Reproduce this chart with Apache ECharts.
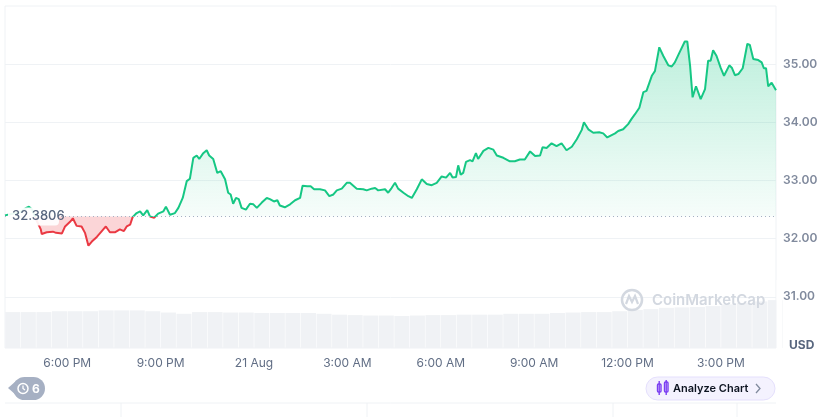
<!DOCTYPE html>
<html>
<head>
<meta charset="utf-8">
<script src="https://cdn.jsdelivr.net/npm/echarts@6/dist/echarts.min.js"></script>
<style>
  html, body { margin: 0; padding: 0; background: #fff; }
  #chart { width: 832px; height: 417px; }
</style>
</head>
<body>
<div id="chart"></div>
<script>
// hours since 20 Aug 00:00
const times = [16.00,16.23,16.48,16.68,16.77,16.87,17.00,17.15,17.18,17.34,17.54,17.64,17.67,17.83,17.93,18.09,18.18,18.30,18.46,18.57,18.68,18.79,18.95,19.11,19.24,19.37,19.53,19.69,19.82,19.91,20.02,20.10,20.23,20.34,20.44,20.57,20.66,20.79,20.92,21.09,21.17,21.30,21.46,21.57,21.71,21.84,21.94,22.05,22.16,22.24,22.37,22.48,22.56,22.69,22.82,22.93,23.07,23.17,23.25,23.33,23.42,23.51,23.60,23.74,23.87,23.98,24.09,24.25,24.41,24.51,24.64,24.75,24.83,24.99,25.16,25.32,25.48,25.56,25.71,25.82,25.93,26.12,26.28,26.42,26.55,26.66,26.82,26.98,27.08,27.19,27.30,27.51,27.62,27.78,27.89,27.99,28.21,28.31,28.42,28.53,28.63,28.80,28.96,29.07,29.23,29.39,29.55,29.71,29.87,30.03,30.17,30.30,30.38,30.49,30.56,30.64,30.72,30.81,30.94,31.02,31.13,31.20,31.37,31.53,31.69,31.80,32.01,32.22,32.38,32.54,32.70,32.87,33.03,33.19,33.27,33.40,33.56,33.72,33.88,34.04,34.21,34.37,34.53,34.60,34.74,34.90,35.09,35.22,35.28,35.35,35.49,35.60,35.70,35.86,36.02,36.13,36.24,36.38,36.51,36.61,36.78,36.88,37.02,37.15,37.31,37.42,37.52,37.66,37.84,37.92,38.01,38.09,38.20,38.35,38.49,38.59,38.67,38.75,38.86,38.99,39.10,39.27,39.35,39.45,39.56,39.70,39.85,39.93,40.04,40.20,40.31,40.38,40.45,40.52,40.63,40.77];
const prices = [32.40,32.43,32.45,32.53,32.55,32.50,32.33,32.16,32.08,32.11,32.12,32.10,32.07,32.09,32.21,32.29,32.35,32.22,32.21,32.10,31.88,31.95,32.03,32.13,32.21,32.11,32.11,32.16,32.13,32.21,32.24,32.37,32.44,32.47,32.40,32.49,32.38,32.36,32.43,32.47,32.55,32.41,32.44,32.53,32.70,32.99,33.03,33.39,33.43,33.37,33.47,33.52,33.43,33.37,33.13,33.16,33.02,32.79,32.76,32.60,32.70,32.68,32.53,32.50,32.60,32.59,32.53,32.62,32.70,32.68,32.64,32.66,32.57,32.54,32.59,32.66,32.70,32.91,32.90,32.90,32.85,32.85,32.83,32.73,32.76,32.83,32.86,32.96,32.96,32.91,32.86,32.85,32.83,32.86,32.87,32.83,32.85,32.79,32.87,32.96,32.86,32.79,32.73,32.70,32.85,33.02,32.94,32.92,32.96,33.07,33.05,33.13,33.05,33.06,33.26,33.10,33.13,33.32,33.35,33.33,33.47,33.37,33.51,33.56,33.53,33.43,33.39,33.33,33.33,33.36,33.36,33.50,33.42,33.43,33.57,33.56,33.64,33.59,33.64,33.52,33.58,33.71,33.87,34.00,33.88,33.82,33.83,33.81,33.83,33.74,33.78,33.81,33.85,33.88,33.97,34.06,34.14,34.25,34.52,34.54,34.80,34.88,35.29,35.14,34.98,34.96,35.03,35.19,35.39,35.39,34.97,34.43,34.62,34.40,34.57,35.06,35.06,35.24,35.14,34.94,34.80,34.98,34.94,34.81,34.83,34.93,35.35,35.33,35.09,35.07,35.03,34.93,34.93,34.62,34.68,34.55];

// half-hour volume bars, starting 16:00
const volStart = 16.25;
const volumes = [42,42,42,43,43,43,44,44,44,43,41.5,40,42,42,41.5,41.5,41,41,41,41,40,39,38.5,38,38,37.5,38,38.5,38.5,39,39,39,40,40,40,41,41.5,42,42,43,44.5,45.5,47,47.5,48,49,51,52.5,54.5,56];

const openPrice = 32.3806;
const lastPrice = 34.55;
const timeTicks = [18, 21, 24, 27, 30, 33, 36, 39];
const tMin = 16.0;
const tMax = 40.77;

const green = '#16c784';
const red = '#ea3943';

function timeLabel(h) {
  if (h === 24) return '21 Aug';
  const hr = h % 24;
  const ampm = hr >= 12 ? 'PM' : 'AM';
  const h12 = hr % 12 === 0 ? 12 : hr % 12;
  return h12 + ':00 ' + ampm;
}

const chart = echarts.init(document.getElementById('chart'));

const xBase = { type: 'value', min: tMin, max: tMax, axisLine: { show: false }, axisTick: { show: false }, splitLine: { show: false } };

chart.setOption({
  animation: false,
  textStyle: { fontFamily: 'Inter, "Noto Sans", sans-serif' },
  grid: [
    { left: 5, right: 56, top: 6, bottom: 62 },
    { left: 5, right: 56, top: 6, bottom: 69, show: true, borderColor: '#eff2f5', borderWidth: 1 },
  ],
  xAxis: [
    Object.assign({ gridIndex: 0, axisLabel: { show: false } }, xBase),
    Object.assign({
      gridIndex: 1,
      axisLabel: {
        customValues: timeTicks,
        formatter: timeLabel,
        color: '#616e85',
        fontSize: 12,
        margin: 9,
      },
    }, xBase),
  ],
  yAxis: [
    {
      gridIndex: 0,
      type: 'value',
      position: 'right',
      min: 30,
      max: 36,
      interval: 1,
      axisLine: { show: false },
      axisTick: { show: false },
      axisLabel: {
        showMinLabel: false,
        showMaxLabel: false,
        formatter: (v) => v.toFixed(2),
        color: '#808a9d',
        fontSize: 12,
        fontWeight: 600,
        margin: 7,
      },
      splitLine: { showMinLine: false, showMaxLine: false, lineStyle: { color: '#eff2f5' } },
    },
    { gridIndex: 1, type: 'value', min: 0, max: 400, show: false },
  ],
  series: [
    {
      type: 'bar',
      xAxisIndex: 1,
      yAxisIndex: 1,
      silent: true,
      barWidth: 15,
      itemStyle: { color: '#f0f2f5' },
      data: volumes.map((v, i) => [volStart + i * 0.5, v]),
    },
    {
      type: 'line',
      silent: true,
      showSymbol: false,
      lineStyle: { width: 0 },
      areaStyle: {
        origin: openPrice,
        color: new echarts.graphic.LinearGradient(0, 0, 0, 1, [
          { offset: 0, color: 'rgba(22,199,132,0.4)' },
          { offset: 1, color: 'rgba(22,199,132,0.05)' },
        ]),
      },
      data: times.map((t, i) => [t, Math.max(prices[i], openPrice)]),
    },
    {
      type: 'line',
      silent: true,
      showSymbol: false,
      lineStyle: { width: 0 },
      areaStyle: { origin: openPrice, color: 'rgba(234,57,67,0.3)' },
      data: times.map((t, i) => [t, Math.min(prices[i], openPrice)]),
    },
    {
      id: 'price',
      type: 'line',
      showSymbol: false,
      lineStyle: { width: 2, color: green },
      data: times.map((t, i) => [t, prices[i]]),
      markLine: {
        silent: true,
        symbol: 'none',
        animation: false,
        data: [
          {
            yAxis: openPrice,
            lineStyle: { color: '#a6b0c3', type: [1, 3], width: 1 },
            label: { show: false },
          },
          {
            yAxis: lastPrice,
            lineStyle: { opacity: 0 },
            label: {
              position: 'end',
              distance: 0,
              formatter: lastPrice.toFixed(2),
              color: '#fff',
              fontSize: 13,
              fontWeight: 700,
              backgroundColor: green,
              borderRadius: 4,
              padding: [4, 5, 4, 5],
            },
          },
        ],
      },
    },
  ],
});

// colour the price line green above the open price and red below it
const yBase = chart.convertToPixel({ yAxisIndex: 0 }, openPrice);
const lineColor = new echarts.graphic.LinearGradient(0, yBase - 1, 0, yBase + 1, [
  { offset: 0, color: green },
  { offset: 0.5, color: green },
  { offset: 0.5, color: red },
  { offset: 1, color: red },
], true);

// right edge of the plot, to trim the last volume bar
const plotRight = chart.convertToPixel({ xAxisIndex: 1 }, tMax);

const wm = '#d3d8e0';
const edge = '#eff2f5';

chart.setOption({
  series: [{ id: 'price', lineStyle: { color: lineColor } }],
  graphic: [
    { type: 'rect', z: 10, shape: { x: plotRight + 0.5, y: 280, width: 6, height: 70 }, style: { fill: '#fff' } },
    // open price tag
    { type: 'rect', z: 100, shape: { x: 8, y: yBase - 9, width: 51, height: 18, r: 4 }, style: { fill: 'rgba(255,255,255,0.92)' } },
    { type: 'text', z: 101, x: 12, y: yBase, style: { text: openPrice.toString(), fill: '#58667e', font: '500 13px Inter', verticalAlign: 'middle' } },
    // unit
    { type: 'text', x: 789, y: 345, style: { text: 'USD', fill: '#58667e', font: '700 12px Inter', verticalAlign: 'middle' } },
    // watermark, above the volume bars
    { type: 'circle', z: 50, shape: { cx: 632, cy: 300, r: 10 }, style: { fill: 'none', stroke: wm, lineWidth: 2.5 } },
    { type: 'polyline', z: 50, shape: { points: [[626, 304], [629, 296], [632, 302], [635, 296], [638, 304]] }, style: { fill: 'none', stroke: wm, lineWidth: 2.2 } },
    { type: 'text', z: 50, x: 652, y: 300, style: { text: 'CoinMarketCap', fill: wm, font: '600 15px Inter', verticalAlign: 'middle' } },
    // events badge
    { type: 'polygon', shape: { points: [[8, 388], [16, 381], [16, 395]] }, style: { fill: '#a6b0c3' } },
    { type: 'rect', shape: { x: 13, y: 377, width: 32, height: 23, r: 11.5 }, style: { fill: '#a6b0c3' } },
    { type: 'circle', shape: { cx: 23, cy: 388.5, r: 5 }, style: { fill: 'none', stroke: '#fff', lineWidth: 1.5 } },
    { type: 'polyline', shape: { points: [[23, 385.5], [23, 388.5], [25, 390]] }, style: { fill: 'none', stroke: '#fff', lineWidth: 1.3 } },
    { type: 'text', x: 32, y: 389, style: { text: '6', fill: '#fff', font: '700 12px Inter', verticalAlign: 'middle' } },
    // analyze button
    { type: 'rect', shape: { x: 646, y: 377, width: 129, height: 23, r: 11.5 }, style: { fill: '#f4f2fe', stroke: '#e4dffc', lineWidth: 1 } },
    { type: 'rect', shape: { x: 657.5, y: 384, width: 3.5, height: 8, r: 1 }, style: { fill: 'none', stroke: '#7b3ff2', lineWidth: 1.4 } },
    { type: 'line', shape: { x1: 659.2, y1: 381, x2: 659.2, y2: 395 }, style: { stroke: '#7b3ff2', lineWidth: 1.4 } },
    { type: 'rect', shape: { x: 664.5, y: 382, width: 3.5, height: 10, r: 1 }, style: { fill: 'none', stroke: '#7b3ff2', lineWidth: 1.4 } },
    { type: 'line', shape: { x1: 666.2, y1: 380, x2: 666.2, y2: 395 }, style: { stroke: '#7b3ff2', lineWidth: 1.4 } },
    { type: 'text', x: 673, y: 389, style: { text: 'Analyze Chart', fill: '#0d1421', font: '600 11px Inter', verticalAlign: 'middle' } },
    { type: 'polyline', shape: { points: [[756, 384], [760, 388.5], [756, 393]] }, style: { fill: 'none', stroke: '#808a9d', lineWidth: 1.3 } },
    // next panel edge
    { type: 'line', shape: { x1: 5, y1: 403, x2: 776, y2: 403 }, style: { stroke: edge, lineWidth: 1 } },
    { type: 'line', shape: { x1: 121, y1: 403, x2: 121, y2: 417 }, style: { stroke: edge, lineWidth: 1 } },
    { type: 'line', shape: { x1: 367, y1: 403, x2: 367, y2: 417 }, style: { stroke: edge, lineWidth: 1 } },
    { type: 'line', shape: { x1: 613, y1: 403, x2: 613, y2: 417 }, style: { stroke: edge, lineWidth: 1 } },
    { type: 'line', shape: { x1: 737, y1: 403, x2: 737, y2: 417 }, style: { stroke: edge, lineWidth: 1 } },
  ],
});

window.addEventListener('resize', () => chart.resize());
</script>
</body>
</html>
